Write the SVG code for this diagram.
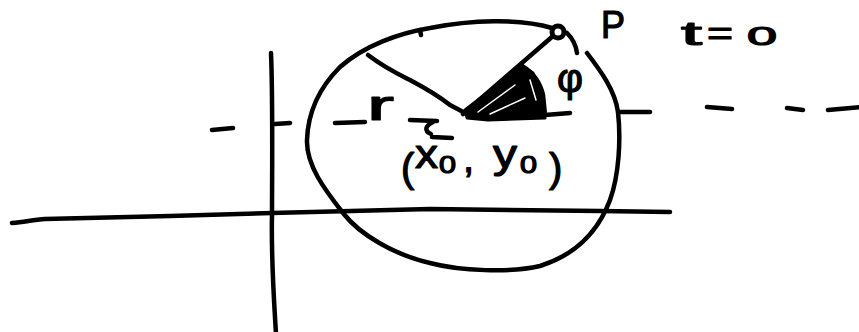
<svg xmlns="http://www.w3.org/2000/svg" width="859" height="332" viewBox="0 0 859 332">
<style>
.s{fill:none;stroke:#000;stroke-width:4.5;stroke-linecap:round;stroke-linejoin:round}
.t{font-family:"Liberation Sans","DejaVu Sans",sans-serif;fill:#000;stroke:#000;stroke-width:1.2;stroke-linejoin:round}
</style>
<rect width="859" height="332" fill="#fff"/>
<g id="axes">
<path class="s" d="M12,223 C25,222 32,220 45,219 L170,216 L272,213 L430,209 L600,211 L670,212"/>
<path class="s" d="M271,53 C273,100 272,180 272,215 C271,260 274,300 276,334"/>
</g>
<g id="dashes">
<path class="s" d="M212,130 L233,128 M275,124 L290,123 M335,123 L365,122"/>
<path class="s" d="M618,112 L650,112 M707,107 L732,109 M787,108 L803,110 M828,110 L861,107"/>
</g>
<g id="circle">
<path class="s" d="M587,53 C600,70 615,90 618,112 C621,140 619,175 610,200 C598,232 575,255 540,266 C510,273 460,271 430,263 C395,255 360,235 343,213 C325,190 306,165 307,140 C308,110 322,85 340,67 C365,45 400,33 430,28 C470,20 520,18 552,28"/>
<path class="s" d="M567,33 C572,38 576,45 577,53"/>
<path class="s" d="M420,30 L421,35"/>
</g>
<g id="radius">
<path class="s" d="M368,55 C385,68 400,75 410,80 C425,88 440,97 450,105 L467,114"/>
<path class="s" d="M463,114 L553,36" stroke-width="5"/>
</g>
<g id="point-P">
<circle cx="558" cy="32" r="6" fill="none" stroke="#000" stroke-width="5"/>
</g>
<g id="angle">
<path d="M465,110 L512,74 L522,66 L533,73 L541,92 L543,112 L545,118 L488,120 L467,118 Z" fill="#000" stroke="#000" stroke-width="3" stroke-linejoin="round"/>
<path d="M478,112 L515,85 M490,114 L525,98 M530,80 L536,100" fill="none" stroke="#fff" stroke-width="1.5" stroke-linecap="round"/>
<path class="s" d="M522,66 C532,72 540,82 543,95 L545,115 L570,113"/>
</g>
<g id="center-mark">
<path class="s" d="M410,120 L437,121 M433,122 C425,126 424,131 431,134 M432,137 L452,138"/>
</g>
<g id="labels">
<text class="t" x="601" y="38" font-size="38" textLength="24" lengthAdjust="spacingAndGlyphs">P</text>
<text class="t" x="681" y="45" font-size="34" textLength="21" lengthAdjust="spacingAndGlyphs">t</text>
<text class="t" x="707" y="45" font-size="34" textLength="26" lengthAdjust="spacingAndGlyphs">=</text>
<text class="t" x="747" y="45" font-size="26" textLength="30" lengthAdjust="spacingAndGlyphs">0</text>
<text class="t" x="557" y="92" font-size="40" textLength="26" lengthAdjust="spacingAndGlyphs">φ</text>
<text class="t" x="367" y="120" font-size="42" textLength="27" lengthAdjust="spacingAndGlyphs">r</text>
<text class="t" x="401" y="182" font-size="40">(</text>
<text class="t" x="415" y="168" font-size="40" textLength="23" lengthAdjust="spacingAndGlyphs">x</text>
<text class="t" x="439" y="173" font-size="24" textLength="17" lengthAdjust="spacingAndGlyphs">0</text>
<text class="t" x="463" y="172" font-size="40">,</text>
<text class="t" x="493" y="168" font-size="40" textLength="24" lengthAdjust="spacingAndGlyphs">y</text>
<text class="t" x="520" y="173" font-size="24" textLength="17" lengthAdjust="spacingAndGlyphs">0</text>
<text class="t" x="549" y="182" font-size="40">)</text>
</g>
</svg>
